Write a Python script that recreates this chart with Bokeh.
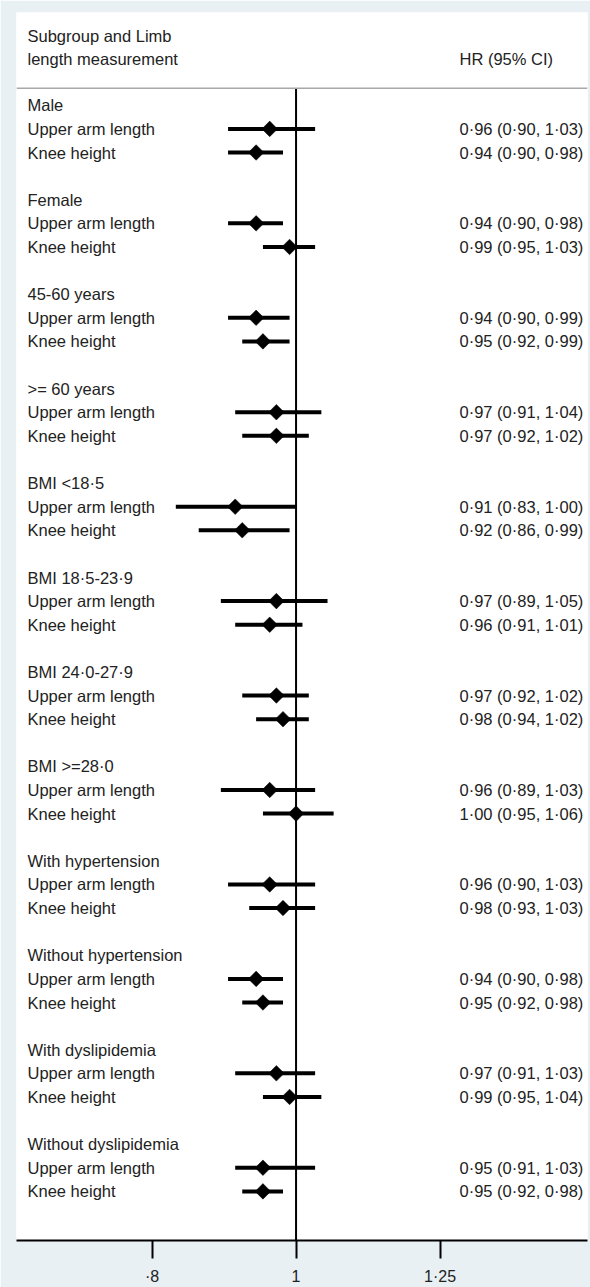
import numpy as np
from bokeh.plotting import figure
from bokeh.models import Range1d, FixedTicker, ColumnDataSource, Span
from bokeh.embed import file_html
from bokeh.resources import INLINE
from bokeh.core.properties import value

# ---------------- data ----------------
groups = ["Male", "Female", "45-60 years", ">= 60 years", "BMI <18·5",
          "BMI 18·5-23·9", "BMI 24·0-27·9", "BMI >=28·0", "With hypertension",
          "Without hypertension", "With dyslipidemia", "Without dyslipidemia"]
measures = ["Upper arm length", "Knee height"]

arm_hr = [0.96, 0.94, 0.94, 0.97, 0.91, 0.97, 0.97, 0.96, 0.96, 0.94, 0.97, 0.95]
arm_lo = [0.90, 0.90, 0.90, 0.91, 0.83, 0.89, 0.92, 0.89, 0.90, 0.90, 0.91, 0.91]
arm_hi = [1.03, 0.98, 0.99, 1.04, 1.00, 1.05, 1.02, 1.03, 1.03, 0.98, 1.03, 1.03]

knee_hr = [0.94, 0.99, 0.95, 0.97, 0.92, 0.96, 0.98, 1.00, 0.98, 0.95, 0.99, 0.95]
knee_lo = [0.90, 0.95, 0.92, 0.92, 0.86, 0.91, 0.94, 0.95, 0.93, 0.92, 0.95, 0.92]
knee_hi = [0.98, 1.03, 0.99, 1.02, 0.99, 1.01, 1.02, 1.06, 1.03, 0.98, 1.04, 0.98]

header_left = ["Subgroup and Limb", "length measurement"]
header_right = "HR (95% CI)"
xtick_values = [0.8, 1.0, 1.25]
xtick_labels = ["·8", "1", "1·25"]

# ---------------- layout ----------------
FONT = "Liberation Sans"
FS = "16.5px"
TXT = "#222222"
BG = "#e8f0f4"
X0, X1 = 0.6484, 1.571
Y_TOP, Y_BOT = -3.93, 48.08
SEP_Y = -0.72


def fmt(h, l, u):
    return f"{h:.2f} ({l:.2f}, {u:.2f})".replace(".", "·")


lab_y, lab_t = [], []
pt_y, pt_hr, pt_lo, pt_hi, pt_txt = [], [], [], [], []
for g, name in enumerate(groups):
    base = g * 4
    lab_y.append(base)
    lab_t.append(name)
    for k, (hr, lo, hi) in enumerate([(arm_hr[g], arm_lo[g], arm_hi[g]),
                                      (knee_hr[g], knee_lo[g], knee_hi[g])]):
        lab_y.append(base + 1 + k)
        lab_t.append(measures[k])
        pt_y.append(base + 1 + k)
        pt_hr.append(hr)
        pt_lo.append(lo)
        pt_hi.append(hi)
        pt_txt.append(fmt(hr, lo, hi))

lab_src = ColumnDataSource(dict(x=[X0] * len(lab_y), y=lab_y, t=lab_t))
pt_src = ColumnDataSource(dict(y=pt_y, hr=pt_hr, lo=pt_lo, hi=pt_hi,
                               t=pt_txt, x=[X0] * len(pt_y)))

p = figure(width=590, height=1287, x_axis_type="log",
           x_range=Range1d(X0, X1), y_range=Range1d(Y_BOT, Y_TOP),
           y_axis_location=None, toolbar_location=None, output_backend="svg",
           min_border_left=16, min_border_right=3, min_border_top=12,
           min_border_bottom=45)
p.border_fill_color = BG
p.background_fill_color = "white"
p.outline_line_color = None
p.xgrid.visible = False
p.ygrid.visible = False

# header
p.text(x=[X0, X0], y=[-2.95, -1.95], text=header_left, x_offset=11,
       text_font=value(FONT), text_font_size=FS, text_color=TXT,
       text_baseline="middle", text_align="left")
p.text(x=[X0], y=[-1.95], text=[header_right], x_offset=443,
       text_font=value(FONT), text_font_size=FS, text_color=TXT,
       text_baseline="middle", text_align="left")
p.add_layout(Span(location=SEP_Y, dimension="width", line_color="#a8a8a8",
                  line_width=1.5))

# null line
p.segment(x0=[1.0], x1=[1.0], y0=[SEP_Y], y1=[Y_BOT], line_color="black",
          line_width=2)

# row labels
p.text(x="x", y="y", text="t", source=lab_src, x_offset=11,
       text_font=value(FONT), text_font_size=FS, text_color=TXT,
       text_baseline="middle", text_align="left")

# CIs and points
p.segment(x0="lo", x1="hi", y0="y", y1="y", source=pt_src, line_color="black",
          line_width=4, line_cap="butt")
p.scatter(x="hr", y="y", source=pt_src, marker="square", angle=np.pi / 4,
          size=11, fill_color="black", line_color="black", line_width=0.5)

# HR text
p.text(x="x", y="y", text="t", source=pt_src, x_offset=443,
       text_font=value(FONT), text_font_size=FS, text_color=TXT,
       text_baseline="middle", text_align="left")

# axis
ax = p.xaxis[0]
ax.ticker = FixedTicker(ticks=xtick_values, minor_ticks=[])
ax.major_label_overrides = {v: l for v, l in zip(xtick_values, xtick_labels)}
ax.axis_line_width = 2
ax.axis_line_color = "black"
ax.major_tick_line_width = 2
ax.major_tick_line_color = "black"
ax.major_tick_out = 18
ax.major_tick_in = 0
ax.minor_tick_out = 0
ax.minor_tick_in = 0
ax.major_label_standoff = 9
ax.major_label_text_font = FONT
ax.major_label_text_font_size = "16px"
ax.major_label_text_color = TXT

open("out.html", "w").write(file_html(p, INLINE))
